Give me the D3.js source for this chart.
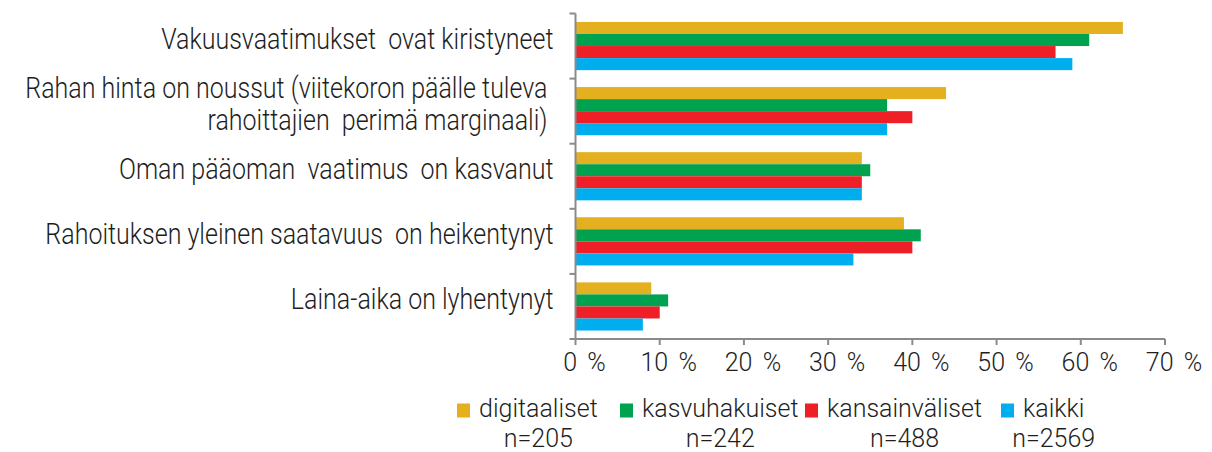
<!DOCTYPE html>
<html>
<head>
<meta charset="utf-8">
<script src="https://cdn.jsdelivr.net/npm/d3@7"></script>
<style>
  html, body { margin: 0; padding: 0; background: #fff; }
  svg { display: block; font-family: Roboto, 'Liberation Sans', sans-serif; font-weight: 300; }
</style>
</head>
<body>
<div id="chart"></div>
<script>
const categories = [
  'Vakuusvaatimukset  ovat kiristyneet',
  'Rahan hinta on noussut (viitekoron päälle tuleva\nrahoittajien  perimä marginaali)',
  'Oman pääoman  vaatimus  on kasvanut',
  'Rahoituksen yleinen saatavuus  on heikentynyt',
  'Laina-aika on lyhentynyt'
];
const seriesNames = ['digitaaliset', 'kasvuhakuiset', 'kansainväliset', 'kaikki'];
const sampleSizes = ['n=205', 'n=242', 'n=488', 'n=2569'];
const digitaaliset = [65, 44, 34, 39, 9];
const kasvuhakuiset = [61, 37, 35, 41, 11];
const kansainvaliset = [57, 40, 34, 40, 10];
const kaikki = [59, 37, 34, 33, 8];
const xTicks = [0, 10, 20, 30, 40, 50, 60, 70];

const colors = ['#e4b020', '#00a250', '#ee1f26', '#00aeef'];
const seriesValues = [digitaaliset, kasvuhakuiset, kansainvaliset, kaikki];

const width = 1212;
const height = 452;
const margin = { top: 13.5, left: 575.5, right: 47, bottom: 113 };
const labelStretch = 1.15;
const axisColor = '#8a8a8a';
const textColor = '#1e1e1e';

const svg = d3.select('#chart')
  .append('svg')
  .attr('width', width)
  .attr('height', height);

const x = d3.scaleLinear()
  .domain([0, 70])
  .range([margin.left, width - margin.right]);

const y0 = d3.scaleBand()
  .domain(d3.range(categories.length))
  .range([margin.top, height - margin.bottom])
  .paddingInner(0.26)
  .paddingOuter(0.13);

const y1 = d3.scaleBand()
  .domain(d3.range(seriesNames.length))
  .range([0, y0.bandwidth()]);

const step = y0.step();
const plotTop = margin.top;
const plotBottom = height - margin.bottom;

// bars
const group = svg.append('g')
  .selectAll('g')
  .data(categories)
  .join('g')
  .attr('transform', (d, i) => `translate(0,${y0(i)})`);

group.selectAll('rect')
  .data((d, i) => seriesValues.map((vals, s) => ({ s, v: vals[i] })))
  .join('rect')
  .attr('x', x(0))
  .attr('y', d => y1(d.s))
  .attr('width', d => x(d.v) - x(0))
  .attr('height', y1.bandwidth())
  .attr('fill', d => colors[d.s]);

// category axis
const yAxis = svg.append('g');
yAxis.append('line')
  .attr('x1', x(0)).attr('x2', x(0))
  .attr('y1', plotTop).attr('y2', plotBottom)
  .attr('stroke', axisColor).attr('stroke-width', 2);
yAxis.selectAll('line.tick')
  .data(d3.range(categories.length + 1))
  .join('line')
  .attr('class', 'tick')
  .attr('x1', x(0) - 6).attr('x2', x(0))
  .attr('y1', i => plotTop + i * step)
  .attr('y2', i => plotTop + i * step)
  .attr('stroke', axisColor).attr('stroke-width', 2);

yAxis.selectAll('text')
  .data(categories)
  .join('text')
  .attr('text-anchor', 'end')
  .attr('font-size', 25)
  .attr('fill', textColor)
  .attr('transform', (d, i) => {
    const lines = d.split('\n').length;
    const cy = plotTop + (i + 0.5) * step + 3 - (lines - 1) * 16;
    const dx = lines > 1 ? 28 : 22;
    return `translate(${x(0) - dx},${cy}) scale(1,${labelStretch})`;
  })
  .each(function (d) {
    const t = d3.select(this);
    d.split('\n').forEach((line, k) => {
      t.append('tspan')
        .attr('x', 0)
        .attr('y', k * 32 / labelStretch)
        .attr('xml:space', 'preserve')
        .style('white-space', 'pre')
        .text(line);
    });
  });

// value axis
const xAxis = svg.append('g');
xAxis.append('line')
  .attr('x1', x(0) - 1).attr('x2', x(70))
  .attr('y1', plotBottom).attr('y2', plotBottom)
  .attr('stroke', axisColor).attr('stroke-width', 2);
xAxis.selectAll('line.tick')
  .data(xTicks)
  .join('line')
  .attr('class', 'tick')
  .attr('x1', d => x(d)).attr('x2', d => x(d))
  .attr('y1', plotBottom).attr('y2', plotBottom + 6)
  .attr('stroke', axisColor).attr('stroke-width', 2);
xAxis.selectAll('text')
  .data(xTicks)
  .join('text')
  .attr('text-anchor', 'middle')
  .attr('font-size', 25)
  .attr('fill', textColor)
  .attr('x', d => x(d) + 9)
  .attr('y', plotBottom + 32)
  .style('white-space', 'pre')
  .text(d => `${d}\u2009\u2009%`);

// legend
const legendX = [457, 620, 805, 1001];
const legend = svg.append('g')
  .selectAll('g')
  .data(seriesNames)
  .join('g')
  .attr('transform', (d, i) => `translate(${legendX[i]},0)`);

legend.append('rect')
  .attr('x', 0).attr('y', 403.5)
  .attr('width', 13).attr('height', 14)
  .attr('fill', (d, i) => colors[i]);

legend.append('text')
  .attr('font-size', 25)
  .attr('fill', textColor)
  .attr('x', 22)
  .attr('y', 417)
  .text(d => d);

legend.each(function (d, i) {
  const g = d3.select(this);
  const w = g.select('text').node().getComputedTextLength();
  g.append('text')
    .attr('font-size', 25)
    .attr('fill', textColor)
    .attr('text-anchor', 'middle')
    .attr('x', 22 + w / 2)
    .attr('y', 447)
    .text(sampleSizes[i]);
});
</script>
</body>
</html>
